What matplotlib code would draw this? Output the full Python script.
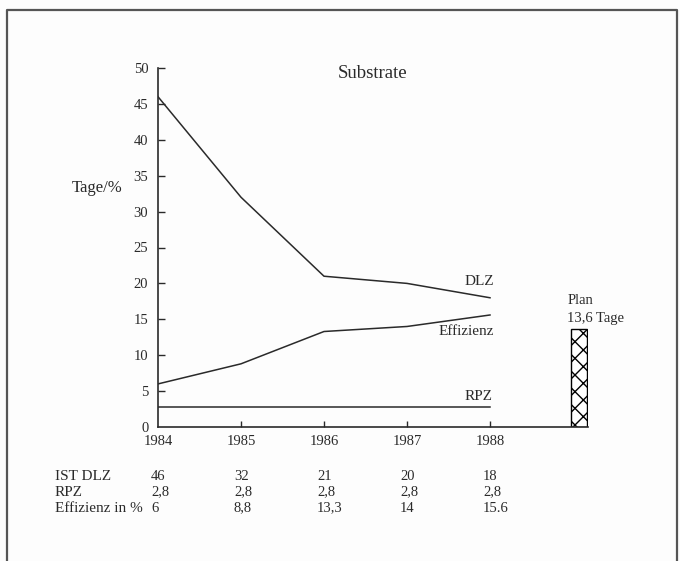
import matplotlib
matplotlib.use("Agg")
import matplotlib.pyplot as plt
from matplotlib.lines import Line2D

years = [1984, 1985, 1986, 1987, 1988]
dlz = [46, 32, 21, 20, 18]
rpz = [2.8, 2.8, 2.8, 2.8, 2.8]
effizienz = [6, 8.8, 13.3, 14, 15.6]
plan_value = 13.6
plan_x = 1989.07
yticks = [0, 5, 10, 15, 20, 25, 30, 35, 40, 45, 50]
row_labels = ["IST DLZ", "RPZ", "Effizienz in %"]
table_rows = [["46", "32", "21", "20", "18"],
              ["2,8", "2,8", "2,8", "2,8", "2,8"],
              ["6", "8,8", "13,3", "14", "15.6"]]

plt.rcParams['font.family'] = ['Liberation Serif', 'DejaVu Serif']
plt.rcParams['hatch.linewidth'] = 1.0
ink = '#2a2a2a'

W, H = 680, 561
fig = plt.figure(figsize=(W / 100, H / 100), dpi=100)
fig.patch.set_facecolor('#fdfdfd')

def fx(px):
    return px / W

def fy(py):
    return 1 - py / H

# outer frame (left, top, right)
fig.add_artist(Line2D([fx(7), fx(7), fx(677), fx(677)],
                      [fy(561), fy(10), fy(10), fy(561)],
                      color='#555555', lw=1.6, transform=fig.transFigure))

ax_left, ax_right, ax_top, ax_bottom = 158, 588, 68, 427
ax = fig.add_axes([fx(ax_left), fy(ax_bottom), (ax_right - ax_left) / W,
                   (ax_bottom - ax_top) / H])
ax.set_facecolor('none')
ax.set_xlim(1984, 1984 + (ax_right - ax_left) / 83.0)
ax.set_ylim(0, 50)
for s in ['top', 'right']:
    ax.spines[s].set_visible(False)
for s in ['left', 'bottom']:
    ax.spines[s].set_color(ink)
    ax.spines[s].set_linewidth(1.2)

ax.plot(years, dlz, color=ink, lw=1.1)
ax.plot(years, effizienz, color=ink, lw=1.1)
ax.plot(years, rpz, color=ink, lw=1.1)
ax.bar([plan_x], [plan_value], width=0.2, facecolor='white', edgecolor='black',
       hatch='xx', lw=1.0)

ax.set_yticks(yticks)
ax.set_yticklabels([str(v) for v in yticks], fontsize=10.5, color=ink)
ax.tick_params(axis='y', direction='in', length=5, width=1, color=ink, pad=7)
ax.set_xticks(years)
ax.set_xticklabels([str(y) for y in years], fontsize=10.5, color=ink)
ax.tick_params(axis='x', direction='in', length=4, width=1, color=ink, pad=6)
ax.xaxis.get_major_ticks()[0].tick1line.set_visible(False)
ax.yaxis.get_major_ticks()[0].tick1line.set_visible(False)

ax.text(1986.58, 49.3, "Substrate", fontsize=13.5, color=ink, ha='center', va='center')
fig.text(fx(97), fy(188), "Tage/%", fontsize=12, color=ink, ha='center', va='center')
ax.text(1988.05, 20.3, "DLZ", fontsize=11, color=ink, ha='right', va='center')
ax.text(1988.05, 13.3, "Effizienz", fontsize=11, color=ink, ha='right', va='center')
ax.text(1988.03, 4.3, "RPZ", fontsize=11, color=ink, ha='right', va='center')
ax.text(plan_x - 0.14, 17.6, "Plan", fontsize=10.5, color=ink, ha='left', va='center')
ax.text(plan_x - 0.14, 15.1, "13,6 Tage", fontsize=10.5, color=ink, ha='left', va='center')

# data table below
row_y = [476, 492, 508]
for label, vals, py in zip(row_labels, table_rows, row_y):
    fig.text(fx(55), fy(py), label, fontsize=11, color=ink, ha='left', va='center')
    for yr, v in zip(years, vals):
        px = ax_left + (yr - 1984) * 83.0 - 7
        fig.text(fx(px), fy(py), v, fontsize=10.5, color=ink, ha='left', va='center')

fig.savefig("out.png", dpi=100, facecolor=fig.get_facecolor())
